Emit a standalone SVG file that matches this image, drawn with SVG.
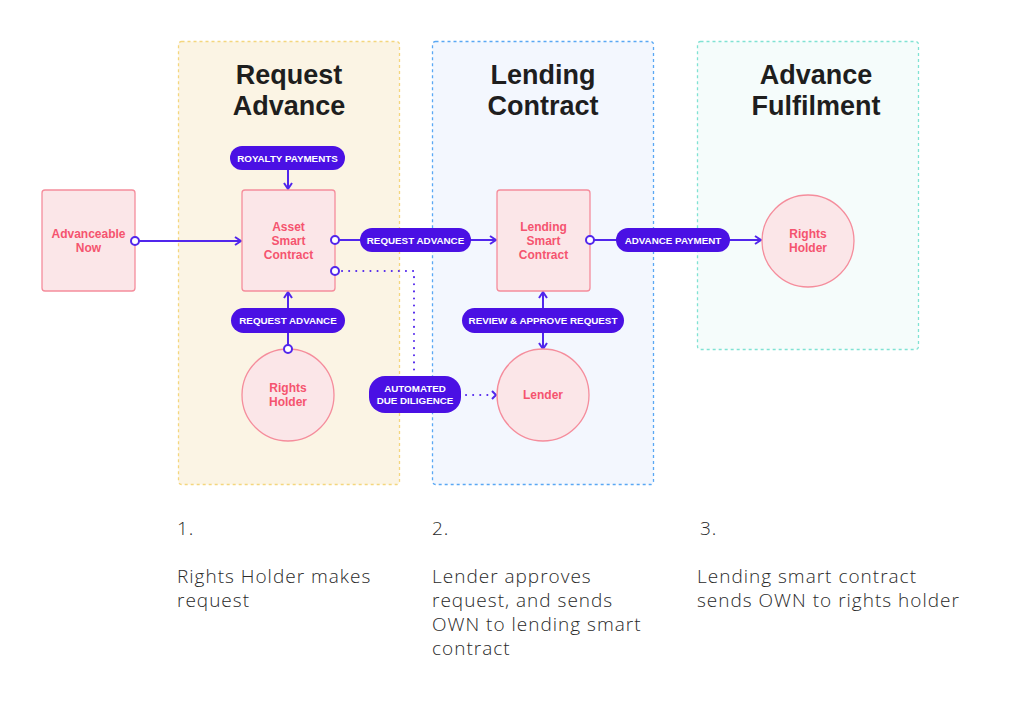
<svg xmlns="http://www.w3.org/2000/svg" width="1019" height="716" viewBox="0 0 1019 716">
<defs>
<style>
.title{font-family:"Liberation Sans",Arial,sans-serif;font-weight:700;font-size:27px;fill:#1e1e1e;text-anchor:middle}
.node{fill:#fbe6e8;stroke:#f58d9c;stroke-width:1.3}
.nt{font-family:"Liberation Sans",Arial,sans-serif;font-weight:700;font-size:12px;fill:#f5546f;text-anchor:middle}
.pill{fill:#4a10e4}
.pt{font-family:"Liberation Sans",Arial,sans-serif;font-weight:700;font-size:9.8px;fill:#ffffff;text-anchor:middle}
.ln{stroke:#5126ec;stroke-width:2;fill:none}
.dot{stroke:#5126ec;stroke-width:2;fill:none;stroke-dasharray:0.1 7;stroke-linecap:round}
.port{fill:#ffffff;stroke:#5126ec;stroke-width:2}
.step{font-family:"Open Sans","Liberation Sans",sans-serif;font-weight:300;font-size:19px;letter-spacing:1px;fill:#2a2a2a}
</style>
<marker id="arr" viewBox="0 0 10 10" refX="8" refY="5" markerWidth="10" markerHeight="10" markerUnits="userSpaceOnUse" orient="auto-start-reverse">
<path d="M2,1 L8,5 L2,9" fill="none" stroke="#5126ec" stroke-width="2"/>
</marker>
</defs>
<rect width="1019" height="716" fill="#ffffff"/>

<g id="panel-request">
<rect x="178.5" y="41.5" width="221" height="443" rx="3" fill="#fbf4e4" stroke="#f4d67e" stroke-width="1.3" stroke-dasharray="3 3"/>
<text class="title" x="289" y="84">Request</text>
<text class="title" x="289" y="115">Advance</text>
</g>
<g id="panel-lending">
<rect x="432.5" y="41.5" width="221" height="443" rx="3" fill="#f3f7fe" stroke="#5aa8f4" stroke-width="1.3" stroke-dasharray="3 3"/>
<text class="title" x="543" y="84">Lending</text>
<text class="title" x="543" y="115">Contract</text>
</g>
<g id="panel-fulfilment">
<rect x="697.5" y="41.5" width="221" height="308" rx="3" fill="#f5fcfb" stroke="#80e2d3" stroke-width="1.3" stroke-dasharray="3 3"/>
<text class="title" x="816" y="84">Advance</text>
<text class="title" x="816" y="115">Fulfilment</text>
</g>

<g id="connectors">
<line class="ln" x1="135" y1="241" x2="241" y2="241" marker-end="url(#arr)"/>
<line class="ln" x1="288" y1="170" x2="288" y2="189" marker-end="url(#arr)"/>
<line class="ln" x1="335" y1="240" x2="496" y2="240" marker-end="url(#arr)"/>
<line class="ln" x1="288" y1="349" x2="288" y2="292" marker-end="url(#arr)"/>
<line class="ln" x1="590" y1="240" x2="761" y2="240" marker-end="url(#arr)"/>
<line class="ln" x1="543" y1="292" x2="543" y2="349" marker-start="url(#arr)" marker-end="url(#arr)"/>
<path class="dot" d="M342,271 L414,271 L414,376"/>
<line class="dot" x1="466" y1="395" x2="490" y2="395"/>
<path d="M492,391 L496,395 L492,399" fill="none" stroke="#5126ec" stroke-width="2"/>
</g>

<g id="node-advanceable">
<rect class="node" x="42" y="190" width="93" height="101" rx="3"/>
<text class="nt" x="88.5" y="238">Advanceable</text>
<text class="nt" x="88.5" y="252">Now</text>
</g>
<g id="node-asset">
<rect class="node" x="242" y="190" width="93" height="101" rx="3"/>
<text class="nt" x="288.5" y="231">Asset</text>
<text class="nt" x="288.5" y="245">Smart</text>
<text class="nt" x="288.5" y="259">Contract</text>
</g>
<g id="node-lending">
<rect class="node" x="497" y="190" width="93" height="101" rx="3"/>
<text class="nt" x="543.5" y="231">Lending</text>
<text class="nt" x="543.5" y="245">Smart</text>
<text class="nt" x="543.5" y="259">Contract</text>
</g>
<g id="node-rights-holder-1">
<circle class="node" cx="288" cy="395" r="46"/>
<text class="nt" x="288" y="392">Rights</text>
<text class="nt" x="288" y="406">Holder</text>
</g>
<g id="node-lender">
<circle class="node" cx="543" cy="395" r="46"/>
<text class="nt" x="543" y="399">Lender</text>
</g>
<g id="node-rights-holder-2">
<circle class="node" cx="808" cy="241" r="46"/>
<text class="nt" x="808" y="238">Rights</text>
<text class="nt" x="808" y="252">Holder</text>
</g>

<g id="ports">
<circle class="port" cx="135" cy="241" r="4"/>
<circle class="port" cx="335" cy="240" r="4"/>
<circle class="port" cx="335" cy="271" r="4"/>
<circle class="port" cx="288" cy="349" r="4"/>
<circle class="port" cx="590" cy="240" r="4"/>
</g>

<g id="label-royalty">
<rect class="pill" x="230" y="146" width="115" height="24" rx="12"/>
<text class="pt" x="287.5" y="161.5">ROYALTY PAYMENTS</text>
</g>
<g id="label-request-advance-1">
<rect class="pill" x="360" y="228" width="111" height="24" rx="12"/>
<text class="pt" x="415.5" y="243.5">REQUEST ADVANCE</text>
</g>
<g id="label-request-advance-2">
<rect class="pill" x="231" y="308" width="114" height="25" rx="12.5"/>
<text class="pt" x="288" y="324">REQUEST ADVANCE</text>
</g>
<g id="label-review">
<rect class="pill" x="462" y="308" width="162" height="25" rx="12.5"/>
<text class="pt" x="543" y="324">REVIEW &amp; APPROVE REQUEST</text>
</g>
<g id="label-advance-payment">
<rect class="pill" x="616" y="228" width="114" height="24" rx="12"/>
<text class="pt" x="673" y="243.5">ADVANCE PAYMENT</text>
</g>
<g id="label-due-diligence">
<rect class="pill" x="369" y="376" width="92" height="37" rx="16"/>
<text class="pt" x="415" y="392">AUTOMATED</text>
<text class="pt" x="415" y="404">DUE DILIGENCE</text>
</g>

<g id="steps">
<text class="step" x="177" y="535">1.</text>
<text class="step" x="177" y="583">Rights Holder makes</text>
<text class="step" x="177" y="607">request</text>
<text class="step" x="432" y="535">2.</text>
<text class="step" x="432" y="583">Lender approves</text>
<text class="step" x="432" y="607">request, and sends</text>
<text class="step" x="432" y="631">OWN to lending smart</text>
<text class="step" x="432" y="655">contract</text>
<text class="step" x="700" y="535">3.</text>
<text class="step" x="697" y="583">Lending smart contract</text>
<text class="step" x="697" y="607">sends OWN to rights holder</text>
</g>
</svg>
